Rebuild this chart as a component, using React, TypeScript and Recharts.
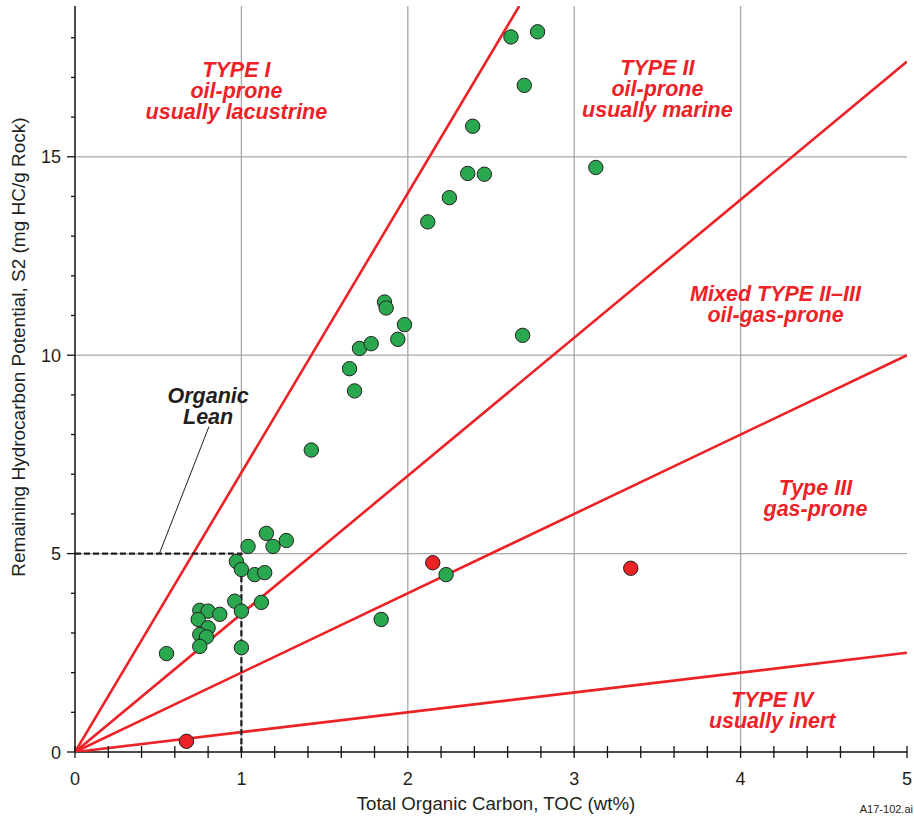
import { ScatterChart, Scatter, XAxis, YAxis, CartesianGrid } from "recharts";

const RED = "#ec2227";
const GREEN = "#2aa84f";
const FONT = "'Liberation Sans', Arial, Helvetica, sans-serif";

// samples: TOC (wt%) vs S2 (mg HC/g rock)
const greenToc = [
  0.55, 0.75, 0.8, 0.87, 0.74, 0.8, 0.75, 0.79, 0.75, 1.0, 0.96, 1.12, 1.0, 0.97,
  1.0, 1.08, 1.14, 1.04, 1.19, 1.27, 1.15, 1.42, 1.65, 1.68, 1.71, 1.78, 1.94,
  1.98, 1.86, 1.87, 2.12, 2.25, 2.36, 2.46, 2.39, 2.62, 2.78, 2.7, 2.69, 3.13,
  2.23, 1.84,
];
const greenS2 = [
  2.48, 3.57, 3.55, 3.47, 3.34, 3.13, 2.96, 2.9, 2.66, 2.63, 3.8, 3.77, 3.55, 4.8,
  4.6, 4.47, 4.52, 5.18, 5.18, 5.33, 5.51, 7.61, 9.66, 9.1, 10.17, 10.29, 10.4,
  10.77, 11.34, 11.19, 13.36, 13.97, 14.58, 14.56, 15.77, 18.02, 18.15, 16.8, 10.5,
  14.73, 4.47, 3.34,
];
const redToc = [2.15, 3.34, 0.67];
const redS2 = [4.77, 4.63, 0.27];

// kerogen type boundaries, each from the origin to these ends
const boundaryToc = [2.67, 5, 5, 5];
const boundaryS2 = [18.8, 17.4, 10.0, 2.5];

// organic lean box and its leader
const leanToc = [0, 1, 1];
const leanS2 = [5, 5, 0];
const leaderToc = [0.805, 0.507];
const leaderS2 = [8.2, 5.0];

const xTicks = [0, 0.2, 0.4, 0.6, 0.8, 1, 1.2, 1.4, 1.6, 1.8, 2, 2.2, 2.4, 2.6, 2.8, 3, 3.2, 3.4, 3.6, 3.8, 4, 4.2, 4.4, 4.6, 4.8, 5];
const xLabels = [0, 1, 2, 3, 4, 5];
const yTicks = [0, 1, 2, 3, 4, 5, 6, 7, 8, 9, 10, 11, 12, 13, 14, 15, 16, 17, 18];
const yLabels = [0, 5, 10, 15];

const notes = [
  { lines: ["TYPE I", "oil-prone", "usually lacustrine"], toc: 0.97, s2: 16.66, color: RED },
  { lines: ["TYPE II", "oil-prone", "usually marine"], toc: 3.5, s2: 16.71, color: RED },
  { lines: ["Mixed TYPE II\u2013III", "oil-gas-prone"], toc: 4.21, s2: 11.3, color: RED },
  { lines: ["Type III", "gas-prone"], toc: 4.45, s2: 6.4, color: RED },
  { lines: ["TYPE IV", "usually inert"], toc: 4.19, s2: 1.05, color: RED },
  { lines: ["Organic", "Lean"], toc: 0.8, s2: 8.73, color: "#231f20" },
];

const pts = (xs: number[], ys: number[]) => xs.map((x, i) => ({ toc: x, s2: ys[i] }));

const BottomTick = ({ x, y, payload }: any) => (
  <g>
    <line x1={x} x2={x} y1={y - 6} y2={y + 6} stroke="#111" strokeWidth={1.3} />
    {xLabels.includes(payload.value) && (
      <text x={x} y={y + 33} textAnchor="middle" fontSize={18} fill="#231f20" fontFamily={FONT}>
        {payload.value}
      </text>
    )}
  </g>
);

const TopTick = ({ x, y }: any) => <line x1={x} x2={x} y1={y} y2={y + 5} stroke="#111" strokeWidth={1.3} />;

const LeftTick = ({ x, y, payload }: any) => {
  const major = yLabels.includes(payload.value);
  return (
    <g>
      <line x1={x - (major ? 8 : 4)} x2={x} y1={y} y2={y} stroke="#111" strokeWidth={1.3} />
      {major && (
        <text x={x - 14} y={y + 6.5} textAnchor="end" fontSize={18} fill="#231f20" fontFamily={FONT}>
          {payload.value}
        </text>
      )}
    </g>
  );
};

const RightTick = ({ x, y }: any) => <line x1={x - 5} x2={x} y1={y} y2={y} stroke="#111" strokeWidth={1.3} />;

const XTitle = ({ viewBox }: any) => (
  <g fontFamily={FONT} fill="#231f20">
    <text x={viewBox.x + viewBox.width / 2 + 5} y={viewBox.y + 58} textAnchor="middle" fontSize={18.7}>
      Total Organic Carbon, TOC (wt%)
    </text>
    <text x={viewBox.x + viewBox.width + 6} y={viewBox.y + 61} textAnchor="end" fontSize={11}>
      A17-102.ai
    </text>
  </g>
);

const YTitle = ({ viewBox }: any) => {
  const cx = viewBox.x + 25;
  const cy = viewBox.y + viewBox.height / 2 - 32;
  return (
    <text x={cx} y={cy} transform={`rotate(-90, ${cx}, ${cy})`} textAnchor="middle" fontSize={19} fill="#231f20" fontFamily={FONT}>
      Remaining Hydrocarbon Potential, S2 (mg HC/g Rock)
    </text>
  );
};

const noteShape = (lines: string[], color: string) => (p: any) => (
  <text textAnchor="middle" fontSize={21.5} fontWeight="bold" fontStyle="italic" fill={color} fontFamily={FONT}>
    {lines.map((l, i) => (
      <tspan key={i} x={p.cx} y={p.cy + (i - (lines.length - 1) / 2) * 21 + 7.5}>
        {l}
      </tspan>
    ))}
  </text>
);

const dot = (fill: string) => (p: any) => <circle cx={p.cx} cy={p.cy} r={7.2} fill={fill} stroke="#231f20" strokeWidth={1} />;

export default function App() {
  return (
    <div style={{ position: "absolute", left: 0, top: 0, width: 914, height: 821, background: "#fff" }}>
      <ScatterChart width={914} height={821} margin={{ top: 6, right: 7, bottom: 0, left: 0 }}>
        <CartesianGrid verticalValues={[1, 2, 3, 4]} horizontalValues={[5, 10, 15]} stroke="#a8a8a8" strokeWidth={1.3} />
        <XAxis
          dataKey="toc"
          type="number"
          domain={[0, 5]}
          allowDataOverflow
          ticks={xTicks}
          interval={0}
          height={69}
          tickSize={0}
          tickMargin={0}
          tickLine={false}
          tick={<BottomTick />}
          axisLine={{ stroke: "#111", strokeWidth: 1.5 }}
          label={<XTitle />}
        />
        <XAxis
          xAxisId="top"
          orientation="top"
          type="number"
          domain={[0, 5]}
          allowDataOverflow
          ticks={xTicks}
          interval={0}
          height={0}
          tickSize={0}
          tickMargin={0}
          tickLine={false}
          tick={<TopTick />}
          axisLine={{ stroke: "#111", strokeWidth: 1.5 }}
        />
        <YAxis
          dataKey="s2"
          type="number"
          domain={[0, 18.8]}
          allowDataOverflow
          ticks={yTicks}
          interval={0}
          width={75}
          tickSize={0}
          tickMargin={0}
          tickLine={false}
          tick={<LeftTick />}
          axisLine={{ stroke: "#111", strokeWidth: 1.5 }}
          label={<YTitle />}
        />
        <YAxis
          yAxisId="right"
          orientation="right"
          type="number"
          domain={[0, 18.8]}
          allowDataOverflow
          ticks={yTicks}
          interval={0}
          width={0}
          tickSize={0}
          tickMargin={0}
          tickLine={false}
          tick={<RightTick />}
          axisLine={{ stroke: "#111", strokeWidth: 1.5 }}
        />
        {boundaryToc.map((t, i) => (
          <Scatter
            key={"b" + i}
            data={pts([0, t], [0, boundaryS2[i]])}
            line={{ stroke: RED, strokeWidth: 2.6 }}
            shape={() => <g />}
            isAnimationActive={false}
          />
        ))}
        <Scatter data={pts(leanToc, leanS2)} line={{ stroke: "#231f20", strokeWidth: 2.3, strokeDasharray: "6 3" }} shape={() => <g />} isAnimationActive={false} />
        <Scatter data={pts(leaderToc, leaderS2)} line={{ stroke: "#231f20", strokeWidth: 1 }} shape={() => <g />} isAnimationActive={false} />
        <Scatter data={pts(redToc, redS2)} shape={dot(RED)} isAnimationActive={false} />
        <Scatter data={pts(greenToc, greenS2)} shape={dot(GREEN)} isAnimationActive={false} />
        {notes.map((n, i) => (
          <Scatter key={"n" + i} data={[{ toc: n.toc, s2: n.s2 }]} shape={noteShape(n.lines, n.color)} isAnimationActive={false} />
        ))}
      </ScatterChart>
    </div>
  );
}
